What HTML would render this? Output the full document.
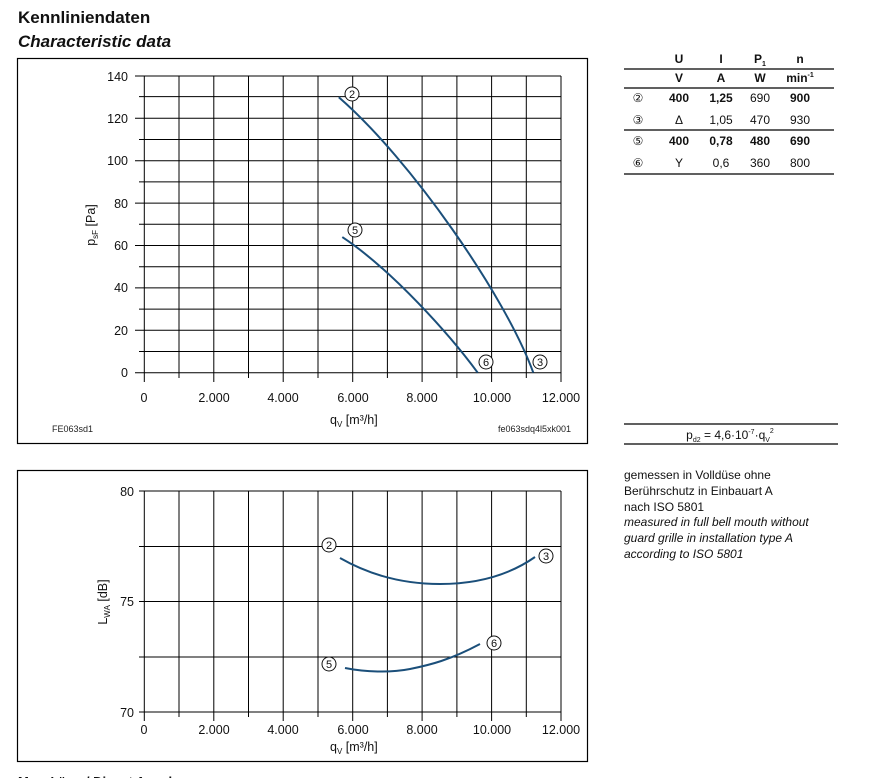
<!DOCTYPE html>
<html><head><meta charset="utf-8"><style>
html,body{margin:0;padding:0;background:#fff;}
svg{display:block;font-family:"Liberation Sans",Arial,sans-serif;}
</style></head><body>
<svg width="886" height="778" viewBox="0 0 886 778" xmlns="http://www.w3.org/2000/svg">
<text x="18" y="23" font-size="17" font-weight="bold" fill="#111">Kennliniendaten</text>
<text x="18" y="47" font-size="17" font-style="italic" font-weight="bold" fill="#111">Characteristic data</text>

<!-- Top chart -->
<rect x="17.5" y="58.5" width="570" height="385" fill="none" stroke="#000" stroke-width="1.2"/>
<g stroke="#000" stroke-width="1">
<line x1="135" y1="76" x2="561" y2="76"/>
<line x1="139" y1="96.6" x2="561" y2="96.6"/>
<line x1="135" y1="118.3" x2="561" y2="118.3"/>
<line x1="139" y1="139.5" x2="561" y2="139.5"/>
<line x1="135" y1="160.7" x2="561" y2="160.7"/>
<line x1="139" y1="181.9" x2="561" y2="181.9"/>
<line x1="135" y1="203.1" x2="561" y2="203.1"/>
<line x1="139" y1="224.3" x2="561" y2="224.3"/>
<line x1="135" y1="245.5" x2="561" y2="245.5"/>
<line x1="139" y1="266.7" x2="561" y2="266.7"/>
<line x1="135" y1="287.9" x2="561" y2="287.9"/>
<line x1="139" y1="309.1" x2="561" y2="309.1"/>
<line x1="135" y1="330.3" x2="561" y2="330.3"/>
<line x1="139" y1="351.5" x2="561" y2="351.5"/>
<line x1="135" y1="372.7" x2="561" y2="372.7"/>
<line x1="144.3" y1="76" x2="144.3" y2="382"/>
<line x1="179" y1="76" x2="179" y2="378"/>
<line x1="213.8" y1="76" x2="213.8" y2="382"/>
<line x1="248.5" y1="76" x2="248.5" y2="378"/>
<line x1="283.2" y1="76" x2="283.2" y2="382"/>
<line x1="318" y1="76" x2="318" y2="378"/>
<line x1="352.7" y1="76" x2="352.7" y2="382"/>
<line x1="387.4" y1="76" x2="387.4" y2="378"/>
<line x1="422.1" y1="76" x2="422.1" y2="382"/>
<line x1="456.9" y1="76" x2="456.9" y2="378"/>
<line x1="491.6" y1="76" x2="491.6" y2="382"/>
<line x1="526.3" y1="76" x2="526.3" y2="378"/>
<line x1="561" y1="76" x2="561" y2="382"/>
</g>
<g font-size="12.5" fill="#111" text-anchor="end">
<text x="128" y="81">140</text><text x="128" y="123">120</text><text x="128" y="165">100</text>
<text x="128" y="208">80</text><text x="128" y="250">60</text><text x="128" y="292">40</text>
<text x="128" y="335">20</text><text x="128" y="377">0</text>
</g>
<g font-size="12.5" fill="#111" text-anchor="middle">
<text x="144" y="402">0</text><text x="214" y="402">2.000</text><text x="283" y="402">4.000</text>
<text x="353" y="402">6.000</text><text x="422" y="402">8.000</text><text x="492" y="402">10.000</text><text x="561" y="402">12.000</text>
</g>
<text x="330" y="424" font-size="12.5" fill="#111">q<tspan font-size="8" dy="3">V</tspan><tspan dy="-3"> [m³/h]</tspan></text>
<text x="95" y="225" font-size="12.5" fill="#111" transform="rotate(-90 95 225)" text-anchor="middle">p<tspan font-size="8" dy="3">sF</tspan><tspan dy="-3"> [Pa]</tspan></text>
<text x="52" y="432" font-size="9" fill="#222">FE063sd1</text>
<text x="498" y="432" font-size="9" fill="#222">fe063sdq4l5xk001</text>
<g fill="none" stroke="#1b4f7a" stroke-width="2">
<path d="M338.8,97.2 C410,159 505,295 533.3,372.7"/>
<path d="M342.3,237.1 C392,270 450,335 477.7,372.7"/>
</g>
<g font-size="11" fill="#111" text-anchor="middle">
<circle cx="352" cy="94" r="7" fill="#fff" stroke="#111"/><text x="352" y="98">2</text>
<circle cx="355" cy="230" r="7" fill="#fff" stroke="#111"/><text x="355" y="234">5</text>
<circle cx="486" cy="362" r="7" fill="#fff" stroke="#111"/><text x="486" y="366">6</text>
<circle cx="540" cy="362" r="7" fill="#fff" stroke="#111"/><text x="540" y="366">3</text>
</g>

<!-- Table -->
<g font-size="12" fill="#111" text-anchor="middle" font-weight="bold">
<text x="679" y="63">U</text><text x="721" y="63">I</text><text x="760" y="63">P<tspan font-size="7" dy="3">1</tspan></text><text x="800" y="63">n</text>
<text x="679" y="82">V</text><text x="721" y="82">A</text><text x="760" y="82">W</text><text x="800" y="82">min<tspan font-size="7" dy="-5">-1</tspan></text>
</g>
<g stroke="#000" stroke-width="1.2">
<line x1="624" y1="69" x2="834" y2="69"/>
<line x1="624" y1="88" x2="834" y2="88"/>
<line x1="624" y1="130" x2="834" y2="130"/>
<line x1="624" y1="174" x2="834" y2="174"/>
</g>
<g font-size="12" fill="#111" text-anchor="middle">
<text x="638" y="102">②</text><text x="679" y="102" font-weight="bold">400</text><text x="721" y="102" font-weight="bold">1,25</text><text x="760" y="102">690</text><text x="800" y="102" font-weight="bold">900</text>
<text x="638" y="124">③</text><text x="679" y="124">Δ</text><text x="721" y="124">1,05</text><text x="760" y="124">470</text><text x="800" y="124">930</text>
<text x="638" y="145">⑤</text><text x="679" y="145" font-weight="bold">400</text><text x="721" y="145" font-weight="bold">0,78</text><text x="760" y="145" font-weight="bold">480</text><text x="800" y="145" font-weight="bold">690</text>
<text x="638" y="167">⑥</text><text x="679" y="167">Y</text><text x="721" y="167">0,6</text><text x="760" y="167">360</text><text x="800" y="167">800</text>
</g>
<line x1="624" y1="424" x2="838" y2="424" stroke="#000" stroke-width="1.2"/>
<line x1="624" y1="444" x2="838" y2="444" stroke="#000" stroke-width="1.2"/>
<text x="730" y="439" font-size="12" fill="#111" text-anchor="middle">p<tspan font-size="7" dy="3">d2</tspan><tspan dy="-3"> = 4,6·10</tspan><tspan font-size="7" dy="-5">-7</tspan><tspan dy="5">·q</tspan><tspan font-size="7" dy="3">V</tspan><tspan font-size="7" dy="-9">2</tspan></text>
<g font-size="12" fill="#111">
<text x="624" y="479">gemessen in Volldüse ohne</text>
<text x="624" y="495">Berührschutz in Einbauart A</text>
<text x="624" y="511">nach ISO 5801</text>
<g font-style="italic">
<text x="624" y="526">measured in full bell mouth without</text>
<text x="624" y="542">guard grille in installation type A</text>
<text x="624" y="558">according to ISO 5801</text>
</g>
</g>

<!-- Bottom chart -->
<rect x="17.5" y="470.5" width="570" height="291" fill="none" stroke="#000" stroke-width="1.2"/>
<g stroke="#000" stroke-width="1">
<line x1="139" y1="491" x2="561" y2="491"/>
<line x1="139" y1="546.5" x2="561" y2="546.5"/>
<line x1="139" y1="601.5" x2="561" y2="601.5"/>
<line x1="139" y1="657" x2="561" y2="657"/>
<line x1="139" y1="712" x2="561" y2="712"/>
<line x1="144.3" y1="491" x2="144.3" y2="721"/>
<line x1="179" y1="491" x2="179" y2="717"/>
<line x1="213.8" y1="491" x2="213.8" y2="721"/>
<line x1="248.5" y1="491" x2="248.5" y2="717"/>
<line x1="283.2" y1="491" x2="283.2" y2="721"/>
<line x1="318" y1="491" x2="318" y2="717"/>
<line x1="352.7" y1="491" x2="352.7" y2="721"/>
<line x1="387.4" y1="491" x2="387.4" y2="717"/>
<line x1="422.1" y1="491" x2="422.1" y2="721"/>
<line x1="456.9" y1="491" x2="456.9" y2="717"/>
<line x1="491.6" y1="491" x2="491.6" y2="721"/>
<line x1="526.3" y1="491" x2="526.3" y2="717"/>
<line x1="561" y1="491" x2="561" y2="721"/>
</g>
<g font-size="12.5" fill="#111" text-anchor="end">
<text x="134" y="496">80</text><text x="134" y="606">75</text><text x="134" y="717">70</text>
</g>
<g font-size="12.5" fill="#111" text-anchor="middle">
<text x="144" y="734">0</text><text x="214" y="734">2.000</text><text x="283" y="734">4.000</text>
<text x="353" y="734">6.000</text><text x="422" y="734">8.000</text><text x="492" y="734">10.000</text><text x="561" y="734">12.000</text>
</g>
<text x="330" y="751" font-size="12.5" fill="#111">q<tspan font-size="8" dy="3">V</tspan><tspan dy="-3"> [m³/h]</tspan></text>
<text x="107" y="602" font-size="12.5" fill="#111" transform="rotate(-90 107 602)" text-anchor="middle">L<tspan font-size="8" dy="3">WA</tspan><tspan dy="-3"> [dB]</tspan></text>
<g fill="none" stroke="#1b4f7a" stroke-width="2">
<path d="M340,558 C375,578 410,584 440,584 S505,578 535,557"/>
<path d="M345,668 C365,672 390,673 410,669 S450,660 480,644"/>
</g>
<g font-size="11" fill="#111" text-anchor="middle">
<circle cx="329" cy="545" r="7" fill="#fff" stroke="#111"/><text x="329" y="549">2</text>
<circle cx="546" cy="556" r="7" fill="#fff" stroke="#111"/><text x="546" y="560">3</text>
<circle cx="329" cy="664" r="7" fill="#fff" stroke="#111"/><text x="329" y="668">5</text>
<circle cx="494" cy="643" r="7" fill="#fff" stroke="#111"/><text x="494" y="647">6</text>
</g>
<text x="18" y="786" font-size="13" font-weight="bold" fill="#111">Max. Lärm / Dienst Angaben</text>
</svg>
</body></html>
